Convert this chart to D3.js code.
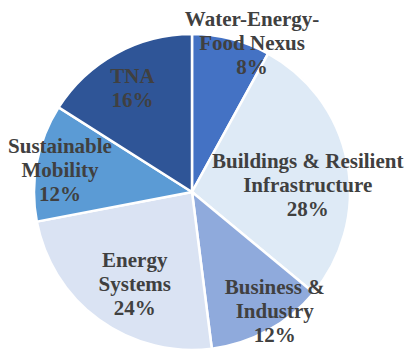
<!DOCTYPE html>
<html>
<head>
<meta charset="utf-8">
<script src="https://cdn.jsdelivr.net/npm/d3@7"></script>
<style>
  html, body { margin: 0; padding: 0; background: #fff; }
  svg { display: block; }
  .lbl { font-family: "Liberation Serif", "Times New Roman", Times, serif; font-weight: bold; font-size: 21px; fill: #404040; }
</style>
</head>
<body>
<svg id="chart" width="408" height="352"></svg>
<script>
// slice data, clockwise from 12 o'clock
const categories = ["Water-Energy-Food Nexus", "Buildings & Resilient Infrastructure", "Business & Industry", "Energy Systems", "Sustainable Mobility", "TNA"];
const values = [8, 28, 12, 24, 12, 16];
const labelLines = [
    ["Water-Energy-", "Food Nexus"],
    ["Buildings & Resilient", "Infrastructure"],
    ["Business &", "Industry"],
    ["Energy", "Systems"],
    ["Sustainable", "Mobility"],
    ["TNA"]
];
const colors = ["#4472C4", "#DEEAF6", "#8FAADC", "#DAE3F3", "#5B9BD5", "#2F5597"];

// label placement (distance from centre, angle nudge in degrees)
const labelDist = [161, 116, 145, 108, 134, 120];
const labelNudge = [7.5, 7, -6, -4, -1, -1];

const width = 408, height = 352;
const cx = 192, cy = 192, radius = 158;

const svg = d3.select("#chart");
const g = svg.append("g").attr("transform", "translate(" + cx + "," + cy + ")");

const pie = d3.pie().sort(null).value(d => d)(values);
const arc = d3.arc().innerRadius(0).outerRadius(radius);

g.selectAll("path.slice")
    .data(pie)
    .enter().append("path")
    .attr("class", "slice")
    .attr("d", arc)
    .attr("fill", (d, i) => colors[i])
    .attr("stroke", "#fff")
    .attr("stroke-width", 2.5)
    .attr("stroke-linejoin", "miter");

const lineH = 24;
pie.forEach((d, i) => {
    const a = (d.startAngle + d.endAngle) / 2 + labelNudge[i] * Math.PI / 180;
    const x = Math.sin(a) * labelDist[i];
    const y = -Math.cos(a) * labelDist[i];
    const lines = labelLines[i].concat([values[i] + "%"]);
    const t = g.append("text")
        .attr("class", "lbl")
        .attr("text-anchor", "middle");
    const y0 = y - (lines.length - 1) * lineH / 2;
    lines.forEach((s, k) => {
        t.append("tspan")
            .attr("x", x)
            .attr("y", y0 + k * lineH)
            .attr("dy", "0.35em")
            .text(s);
    });
});
</script>
</body>
</html>
